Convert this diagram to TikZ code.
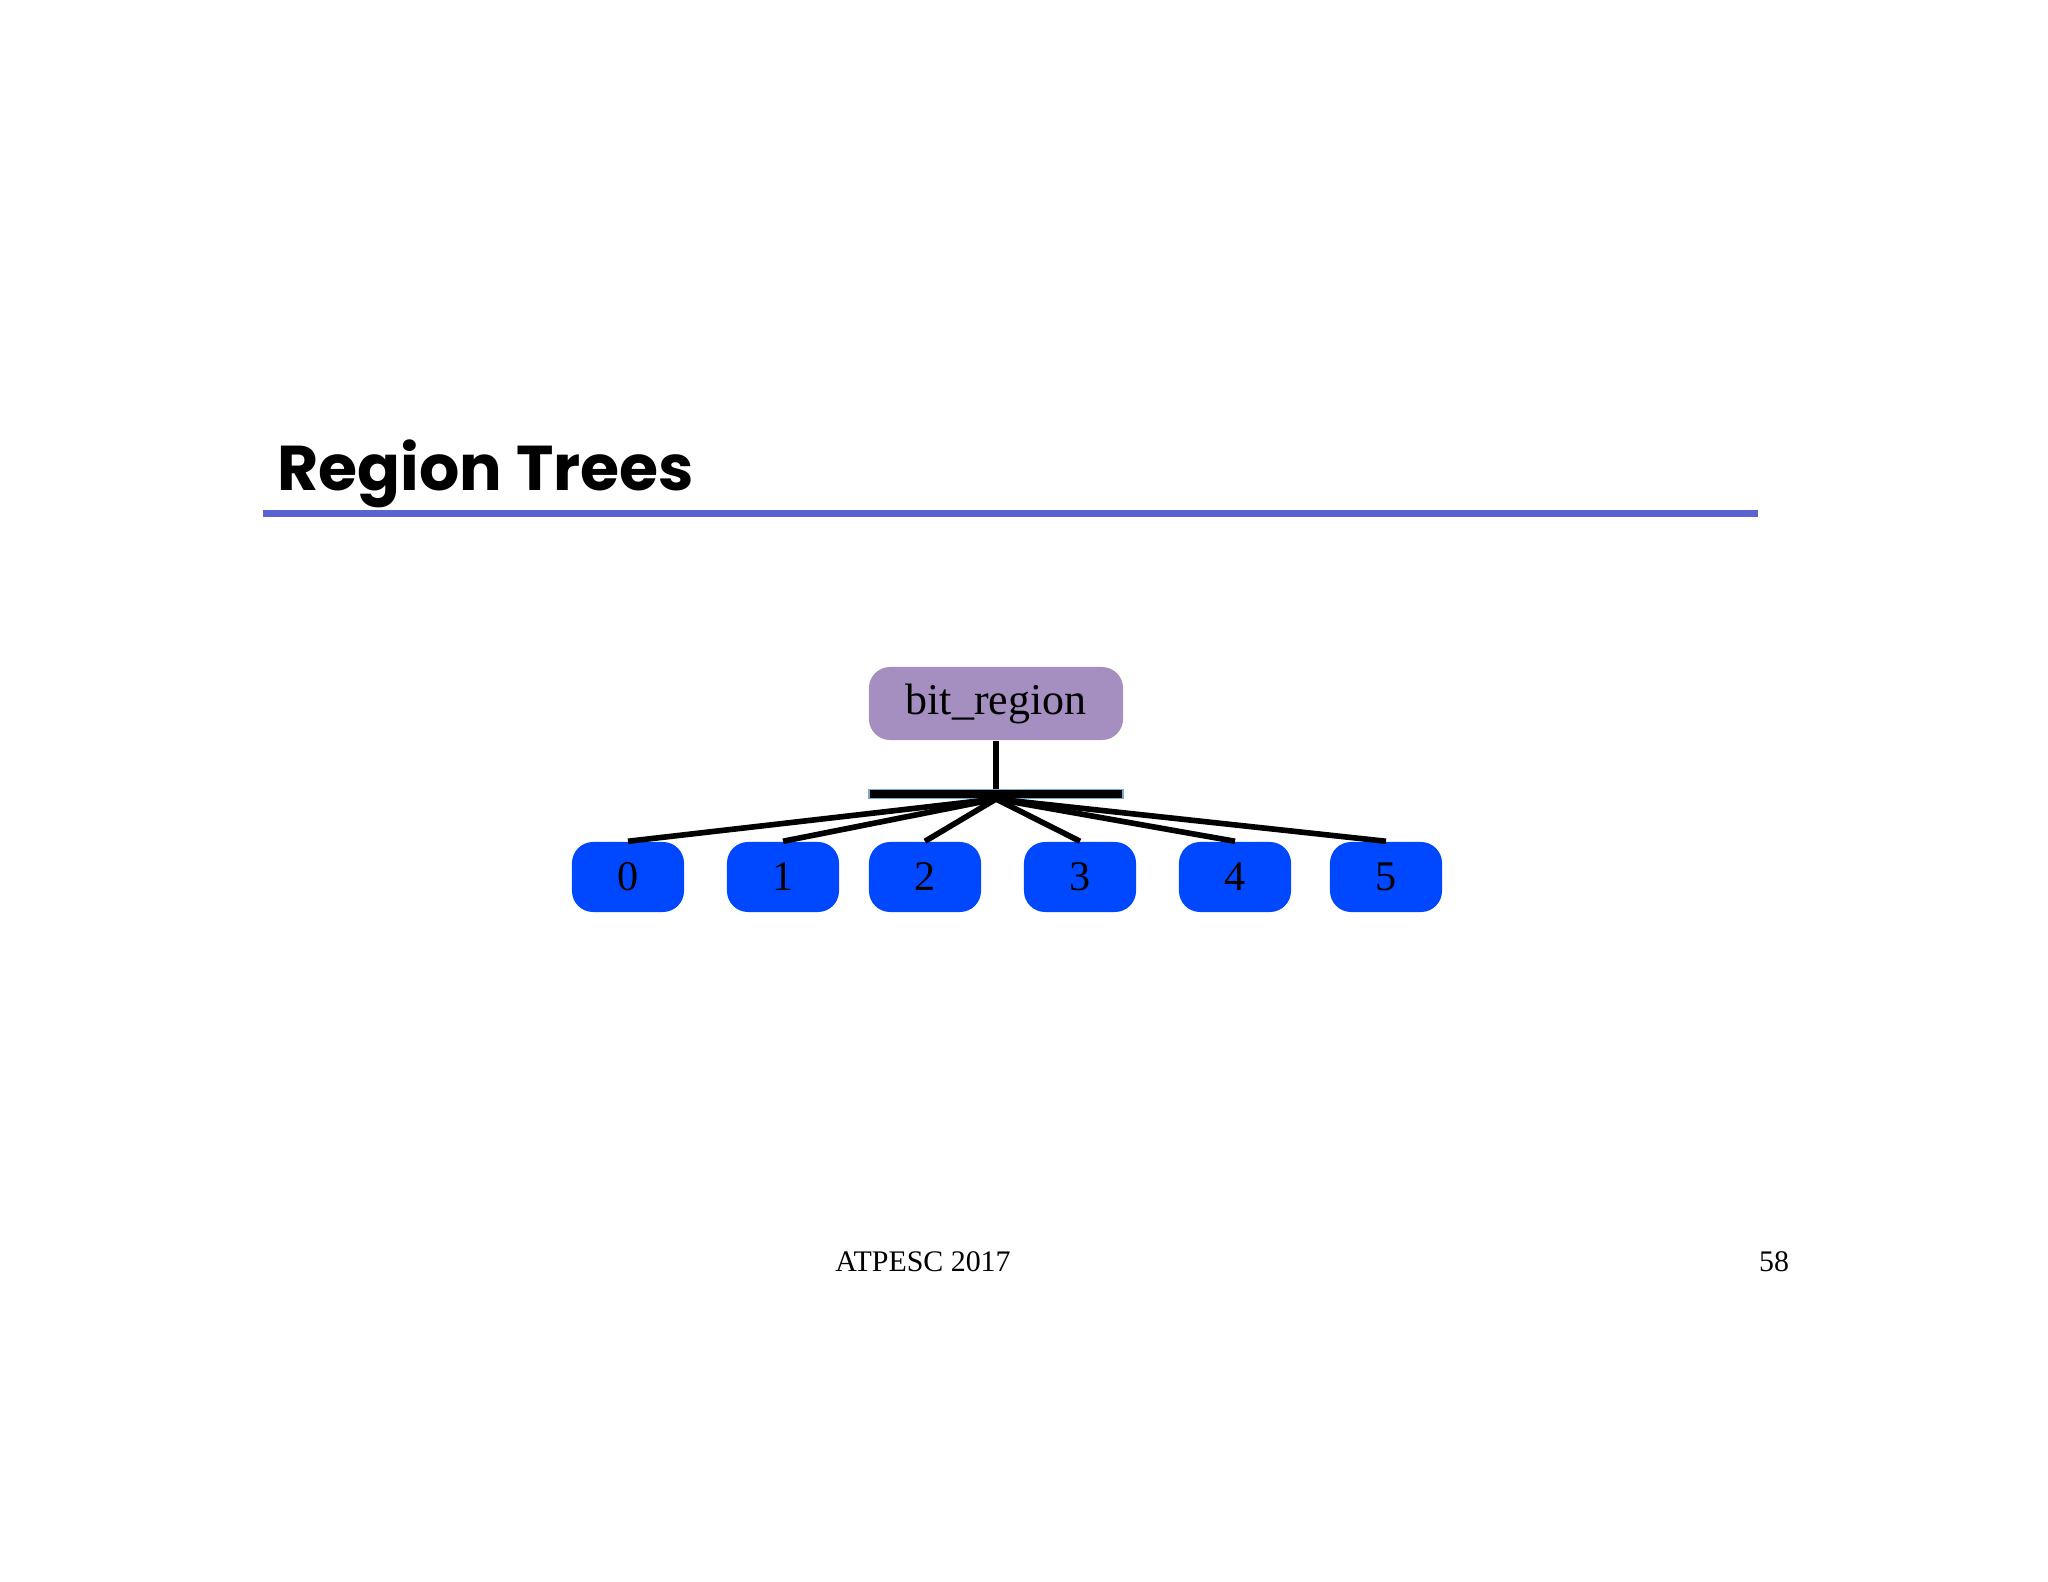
\documentclass[tikz,border=0pt]{standalone}
\usepackage{fontspec}
\setmainfont{Liberation Serif}
\newfontfamily\titlefont{Poppins}
\begin{document}
\begin{tikzpicture}[x=0.01cm,y=-0.01cm,
  leaf/.style={draw=none,fill={rgb,255:red,0;green,72;blue,255},rounded corners=6pt,minimum width=112*0.2845pt,minimum height=70*0.2845pt,inner sep=0pt,font=\fontsize{12}{14}\selectfont},
  conn/.style={line width=1.6pt,black}]
\useasboundingbox (0,0) rectangle (2048,1582);
\node[anchor=base west,font=\titlefont\fontsize{18}{20}\selectfont\bfseries,inner sep=0pt] (title) at (277,490) {Region Trees};
\fill[fill={rgb,255:red,91;green,99;blue,208}] (263,509.5) rectangle (1758,516.5);
\node[fill={rgb,255:red,164;green,143;blue,192},rounded corners=6pt,minimum width=254*0.2845pt,minimum height=73*0.2845pt,inner sep=0pt,font=\fontsize{12.5}{14}\selectfont] (root) at (996,703.5) {bit\_region};
\node[draw={rgb,255:red,120;green,170;blue,210},fill=black,minimum width=254*0.2845pt,minimum height=9*0.2845pt,inner sep=0pt,line width=0.4pt] (bar) at (996,794) {};
\coordinate (hub) at (996,799);
\draw[conn] (root.south) -- (bar.north);
\foreach \i/\x in {0/628,1/783,2/925,3/1080,4/1235,5/1386}{
  \node[leaf] (b\i) at (\x,877) {\raisebox{-0.5ex}{\i}};
  \draw[conn] (hub) -- (b\i.north);
}
\node[font=\fontsize{8.5}{10}\selectfont] (foot) at (923,1262) {ATPESC 2017};
\node[font=\fontsize{8.5}{10}\selectfont] (page) at (1774,1262) {58};
\end{tikzpicture}
\end{document}
